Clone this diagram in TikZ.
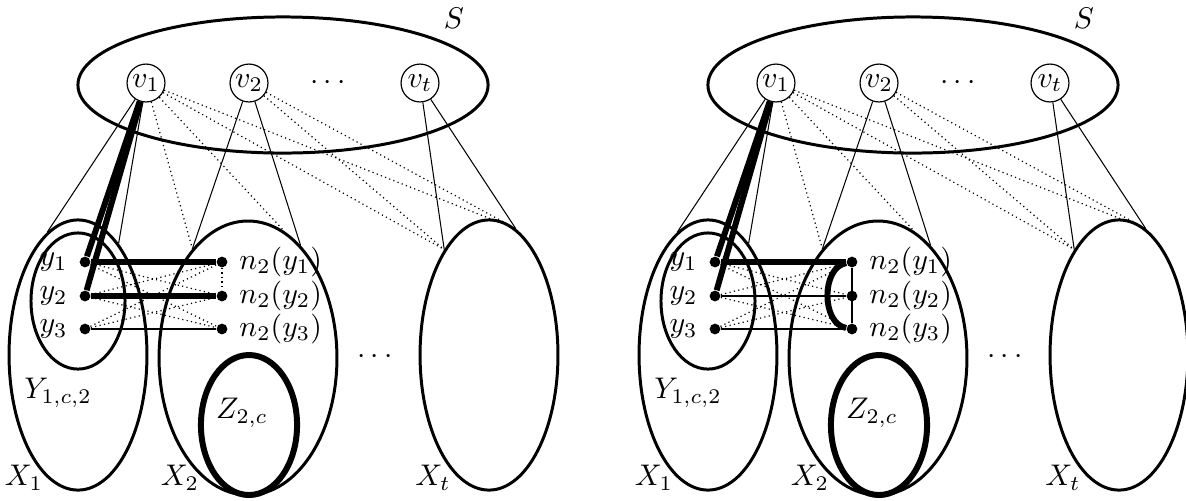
\documentclass[tikz,border=0pt]{standalone}
\usetikzlibrary{shapes.geometric}
\tikzset{
  ell/.style={draw, ellipse, line width=1pt, inner sep=0pt},
  zell/.style={draw, ellipse, line width=2pt, inner sep=0pt},
  vnode/.style={draw, circle, line width=0.4pt, minimum size=12.7pt, inner sep=0pt},
  dotnode/.style={circle, fill, inner sep=0pt, minimum size=3.6pt},
  thinline/.style={line width=0.35pt},
  heavy/.style={line width=2pt},
  dotline/.style={line width=0.4pt, dash pattern=on 0.4pt off 1.1pt},
}
\newcommand{\basepanel}[1]{%
  \node[ell, minimum width=137.4pt, minimum height=45.6pt] (#1S) at (283,85) {};
  \node (#1Slab) at (454,18) {$S$};
  \node[ell, minimum width=46.2pt, minimum height=90.5pt] (#1X1) at (78,355) {};
  \node[ell, minimum width=31.5pt, minimum height=45.6pt] (#1Y) at (78,301) {};
  \node[ell, minimum width=59.6pt, minimum height=91.8pt] (#1X2) at (248,358) {};
  \node[zell, minimum width=32.2pt, minimum height=46.9pt] (#1Z) at (249,425) {};
  \node[ell, minimum width=46.2pt, minimum height=90.5pt] (#1Xt) at (489,355) {};
  \node (#1X1lab) at (24,478) {$X_1$};
  \node (#1X2lab) at (180,478) {$X_2$};
  \node (#1Xtlab) at (433,478) {$X_t$};
  \node (#1Ylab) at (58,393) {$Y_{1,c,2}$};
  \node (#1Zlab) at (242,413) {$Z_{2,c}$};
  \node (#1hd) at (375,357) {$\cdots$};
  \node[vnode] (#1v1) at (146,83) {$v_1$};
  \node[vnode] (#1v2) at (249,83) {$v_2$};
  \node (#1vd) at (328,83) {$\cdots$};
  \node[vnode] (#1vt) at (420,83) {$v_t$};
  \node[dotnode, label={[label distance=0.3pt]left:$y_1$}] (#1y1) at (85,262) {};
  \node[dotnode, label={[label distance=0.3pt]left:$y_2$}] (#1y2) at (85,296) {};
  \node[dotnode, label={[label distance=0.3pt]left:$y_3$}] (#1y3) at (85,329) {};
  \node[dotnode, label={[label distance=0.3pt]right:$n_2(y_1)$}] (#1n1) at (222,262) {};
  \node[dotnode, label={[label distance=0.3pt]right:$n_2(y_2)$}] (#1n2) at (222,296) {};
  \node[dotnode, label={[label distance=0.3pt]right:$n_2(y_3)$}] (#1n3) at (222,329) {};
  % solid thin connections from S to the parts
  \draw[thinline] (#1v1) -- (#1X1.104);
  \draw[thinline] (#1v1) -- (#1X1.70);
  \draw[thinline] (#1v2) -- (#1X2.117);
  \draw[thinline] (#1v2) -- (#1X2.65);
  \draw[thinline] (#1vt) -- (#1Xt.113);
  \draw[thinline] (#1vt) -- (#1Xt.78);
  % dotted connections
  \draw[dotline] (#1v1) -- (#1X2.117);
  \draw[dotline] (#1v1) -- (#1X2.74);
  \draw[dotline] (#1v1) -- (#1Xt.113);
  \draw[dotline] (#1v1) -- (#1Xt.78);
  \draw[dotline] (#1v2) -- (#1Xt.113);
  \draw[dotline] (#1v2) -- (#1Xt.78);
  % heavy edges from v1
  \draw[heavy] (#1v1) -- (#1y1);
  \draw[heavy] (#1v1) -- (#1y2);
  % cross dotted edges
  \draw[dotline] (#1y1) -- (#1n2);
  \draw[dotline] (#1y1) -- (#1n3);
  \draw[dotline] (#1y2) -- (#1n1);
  \draw[dotline] (#1y2) -- (#1n3);
  \draw[dotline] (#1y3) -- (#1n1);
  \draw[dotline] (#1y3) -- (#1n2);
  \draw[thinline] (#1y3) -- (#1n3);
  \draw[heavy] (#1y1) -- (#1n1);
}
\begin{document}
\begin{tikzpicture}[x=0.335pt, y=-0.335pt]
\useasboundingbox (0,0) rectangle (1186,500);
\begin{scope}
  \basepanel{a}
  \draw[heavy] (ay2) -- (an2);
  \draw[dotline] (an1) -- (an2);
\end{scope}
\begin{scope}[xshift=211.05pt]
  \basepanel{b}
  \draw[thinline] (by2) -- (bn2);
  \draw[thinline] (bn1) -- (bn3);
  \draw[heavy] (bn1) to[bend right=80] (bn3);
\end{scope}
\end{tikzpicture}
\end{document}
